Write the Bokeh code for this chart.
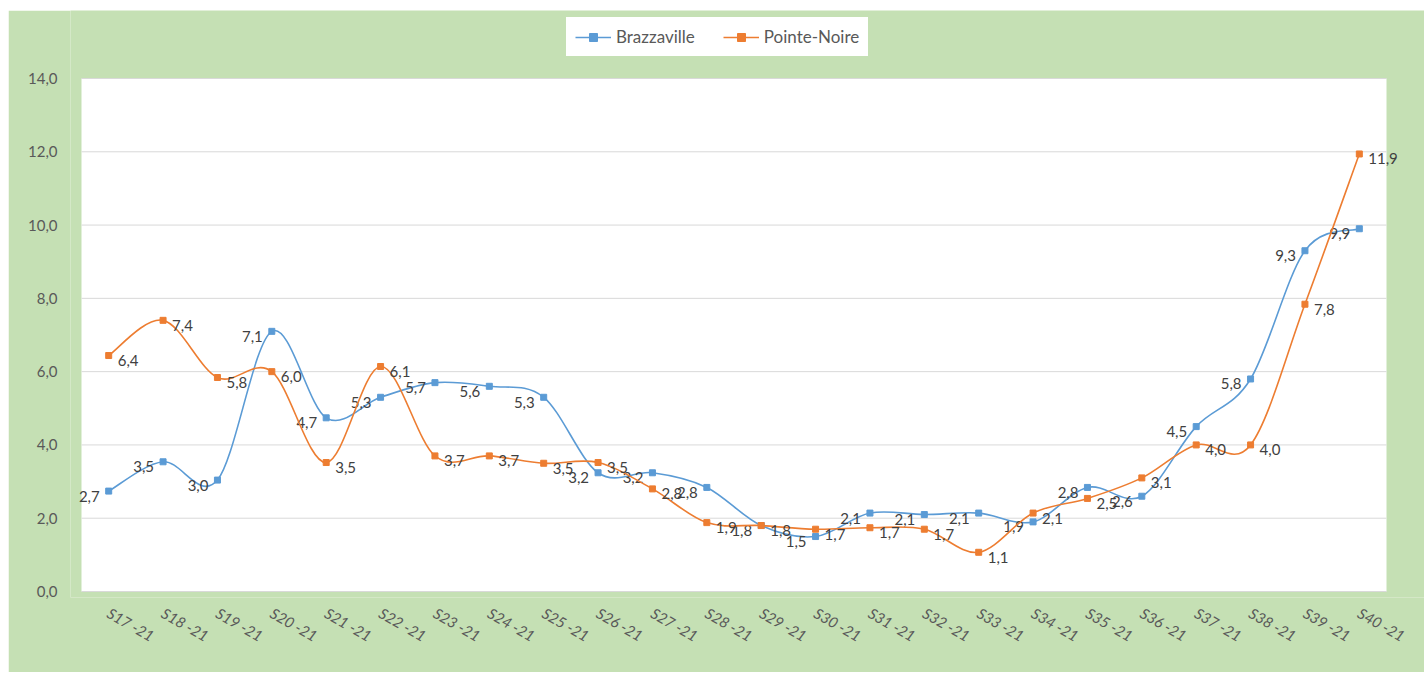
from bokeh.plotting import figure
from bokeh.models import (ColumnDataSource, FixedTicker, Legend, LegendItem, Range1d, Spacer)
from bokeh.layouts import column, row
from bokeh.core.properties import value
from bokeh.embed import file_html
from bokeh.resources import INLINE

# ---------------- data ----------------
weeks = ["S17 -21", "S18 -21", "S19 -21", "S20 -21", "S21 -21", "S22 -21",
         "S23 -21", "S24 -21", "S25 -21", "S26 -21", "S27 -21", "S28 -21",
         "S29 -21", "S30 -21", "S31 -21", "S32 -21", "S33 -21", "S34 -21",
         "S35 -21", "S36 -21", "S37 -21", "S38 -21", "S39 -21", "S40 -21"]
brazzaville = [2.74, 3.54, 3.04, 7.1, 4.74, 5.3, 5.7, 5.6, 5.3, 3.24, 3.24, 2.84,
               1.8, 1.5, 2.14, 2.1, 2.14, 1.9, 2.84, 2.6, 4.5, 5.8, 9.3, 9.9]
pointe_noire = [6.44, 7.4, 5.84, 6.0, 3.52, 6.14, 3.7, 3.7, 3.5, 3.52, 2.8, 1.88,
                1.8, 1.7, 1.74, 1.7, 1.07, 2.14, 2.54, 3.1, 4.0, 4.0, 7.84, 11.94]
y_ticks = [0, 2, 4, 6, 8, 10, 12, 14]

BLUE = "#5B9BD5"
ORANGE = "#ED7D31"
GREEN = "#C5E0B4"
TXT = "#595959"
LBL = "#404040"
FONT = "Lato"


def fmt(v):
    return f"{v:.1f}".replace(".", ",")


def smooth_segments(ys):
    """Excel-like smoothed line: cubic Bezier segments (Catmull-Rom tangents)."""
    n = len(ys)
    xs = list(range(n))
    d = dict(x0=[], y0=[], x1=[], y1=[], cx0=[], cy0=[], cx1=[], cy1=[])
    for i in range(n - 1):
        p0 = i - 1 if i > 0 else i
        p3 = i + 2 if i + 2 < n else i + 1
        d["x0"].append(xs[i]); d["y0"].append(ys[i])
        d["x1"].append(xs[i + 1]); d["y1"].append(ys[i + 1])
        d["cx0"].append(xs[i] + (xs[i + 1] - xs[p0]) / 6)
        d["cy0"].append(ys[i] + (ys[i + 1] - ys[p0]) / 6)
        d["cx1"].append(xs[i + 1] - (xs[p3] - xs[i]) / 6)
        d["cy1"].append(ys[i + 1] - (ys[p3] - ys[i]) / 6)
    return ColumnDataSource(d)


# ---------------- layout (pixels) ----------------
W, H = 1416, 662
FR_L, FR_B = 62, 75                   # frame borders (left, bottom)
PA_L, PA_R, PA_T, PA_B = 73, 1378, 68, 581   # white plot area inside figure
nx = len(weeks)
ymax = y_ticks[-1]
ppx = (PA_R - PA_L) / nx              # px per category
ppy = (PA_B - PA_T) / ymax            # px per unit
x_lo = -0.5 - (PA_L - FR_L) / ppx
x_hi = nx - 0.5 + (W - PA_R) / ppx
y_hi = ymax + PA_T / ppy
y_lo = -((H - FR_B) - PA_B) / ppy

p = figure(width=W, height=H, output_backend="svg", toolbar_location=None,
           x_range=Range1d(x_lo, x_hi), y_range=Range1d(y_lo, y_hi),
           min_border_left=FR_L, min_border_right=0, min_border_top=0,
           min_border_bottom=FR_B)
p.background_fill_color = GREEN
p.border_fill_color = GREEN
p.outline_line_color = None

# white plot area and horizontal gridlines
p.quad(left=-0.5, right=nx - 0.5, bottom=0, top=ymax, fill_color="white",
       line_color=None, level="underlay")
p.segment(x0=[-0.5] * len(y_ticks), x1=[nx - 0.5] * len(y_ticks), y0=y_ticks, y1=y_ticks,
          line_color="#D9D9D9", line_width=1, level="underlay")

# axes
p.xaxis.ticker = FixedTicker(ticks=list(range(nx)))
p.xaxis.major_label_overrides = {i: w for i, w in enumerate(weeks)}
p.xaxis.major_label_orientation = -0.52
p.xaxis.major_label_text_font = FONT
p.xaxis.major_label_text_font_style = "italic"
p.xaxis.major_label_text_font_size = "15px"
p.xaxis.major_label_text_color = TXT
p.xaxis.major_label_standoff = 8
p.yaxis.ticker = FixedTicker(ticks=y_ticks)
p.yaxis.major_label_overrides = {t: fmt(t) for t in y_ticks}
p.yaxis.major_label_text_font = FONT
p.yaxis.major_label_text_font_size = "15px"
p.yaxis.major_label_text_color = TXT
p.yaxis.major_label_standoff = 7
for ax in (p.xaxis, p.yaxis):
    ax.axis_line_color = None
    ax.major_tick_line_color = None
    ax.minor_tick_line_color = None
p.xgrid.grid_line_color = None
p.ygrid.grid_line_color = None

items = []
for name, ys, color, align, xoff in [("Brazzaville", brazzaville, BLUE, "right", -9),
                                     ("Pointe-Noire", pointe_noire, ORANGE, "left", 9)]:
    seg = smooth_segments(ys)
    r_line = p.bezier(x0="x0", y0="y0", x1="x1", y1="y1", cx0="cx0", cy0="cy0",
                      cx1="cx1", cy1="cy1", source=seg, line_color=color, line_width=1.6)
    src = ColumnDataSource(dict(x=list(range(len(ys))), y=ys, t=[fmt(v) for v in ys]))
    r_pts = p.scatter("x", "y", source=src, marker="square", size=6,
                      fill_color=color, line_color=color)
    p.text("x", "y", text="t", source=src, text_align=align, text_baseline="middle",
           x_offset=xoff, y_offset=5, text_font=value(FONT), text_font_size="15px",
           text_color=LBL)
    items.append(LegendItem(label=name, renderers=[r_line, r_pts]))

legend = Legend(items=items, orientation="horizontal", location=(496, 541),
                background_fill_color="white", background_fill_alpha=1.0,
                border_line_color="white", glyph_width=36, label_standoff=5,
                spacing=28, padding=8, margin=0, label_text_font=FONT,
                label_text_font_size="17px", label_text_color=TXT)
p.add_layout(legend, "center")

page = column(Spacer(height=10), row(Spacer(width=8), p))
open("out.html", "w").write(file_html(page, INLINE))
